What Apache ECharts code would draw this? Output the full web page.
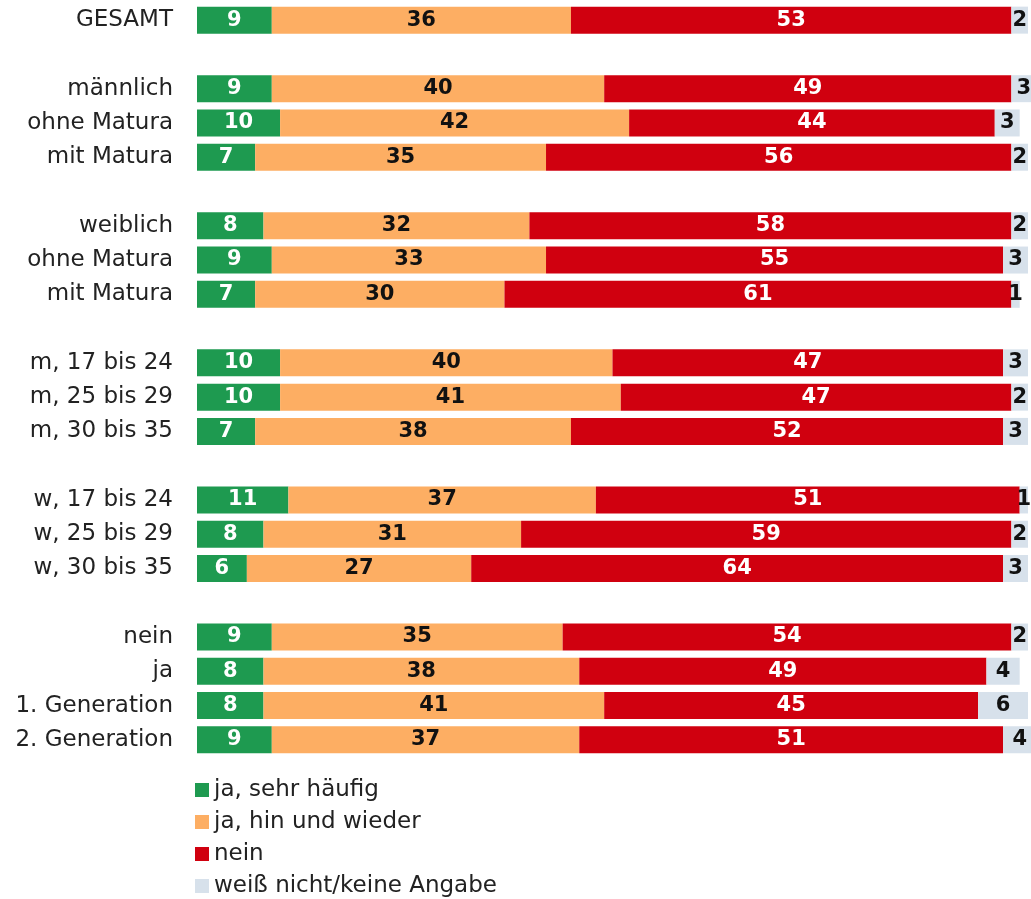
<!DOCTYPE html>
<html>
<head>
<meta charset="utf-8">
<script src="https://cdn.jsdelivr.net/npm/echarts@6/dist/echarts.min.js"></script>
<style>
  html,body{margin:0;padding:0;background:#fff;}
  #chart{width:1031px;height:899px;}
</style>
</head>
<body>
<div id="chart"></div>
<script>
  var categories = ['GESAMT', '', 'männlich', 'ohne Matura', 'mit Matura', '',
    'weiblich', 'ohne Matura', 'mit Matura', '',
    'm, 17 bis 24', 'm, 25 bis 29', 'm, 30 bis 35', '',
    'w, 17 bis 24', 'w, 25 bis 29', 'w, 30 bis 35', '',
    'nein', 'ja', '1. Generation', '2. Generation']

  var seriesNames = ['ja, sehr häufig', 'ja, hin und wieder', 'nein', 'weiß nicht/keine Angabe']

  var sehrHaeufig = [9, null, 9, 10, 7, null, 8, 9, 7, null, 10, 10, 7, null, 11, 8, 6, null, 9, 8, 8, 9]
  var hinUndWieder = [36, null, 40, 42, 35, null, 32, 33, 30, null, 40, 41, 38, null, 37, 31, 27, null, 35, 38, 41, 37]
  var nein = [53, null, 49, 44, 56, null, 58, 55, 61, null, 47, 47, 52, null, 51, 59, 64, null, 54, 49, 45, 51]
  var weissNicht = [2, null, 3, 3, 2, null, 2, 3, 1, null, 3, 2, 3, null, 1, 2, 3, null, 2, 4, 6, 4]

  var colors = ['#1e9a50', '#fdae63', '#d0000f', '#d7e1eb']
  var labelColors = ['#ffffff', '#111111', '#ffffff', '#111111']
  var font = "'DejaVu Sans', sans-serif"

  var chart = echarts.init(document.getElementById('chart'))

  var makeSeries = function (name, values, i) {
    return {
      name: name,
      type: 'bar',
      stack: 'total',
      barWidth: 27,
      clip: false,
      itemStyle: {color: colors[i]},
      label: {
        show: true,
        position: 'inside',
        color: labelColors[i],
        fontFamily: font,
        fontWeight: 'bold',
        fontSize: 21
      },
      data: values
    }
  }

  var option = {
    animation: false,
    color: colors,
    grid: {left: 197, top: 3, width: 831, height: 754},
    legend: {
      orient: 'vertical',
      left: 195,
      top: 778,
      padding: 0,
      icon: 'rect',
      itemWidth: 14,
      itemHeight: 14,
      itemGap: 8,
      textStyle: {fontFamily: font, fontSize: 23, color: '#222', lineHeight: 24},
      data: seriesNames
    },
    xAxis: {
      type: 'value',
      min: 0,
      max: 100,
      show: false
    },
    yAxis: {
      type: 'category',
      inverse: true,
      data: categories,
      axisLine: {show: false},
      axisTick: {show: false},
      axisLabel: {
        margin: 24,
        fontFamily: font,
        fontSize: 23,
        color: '#222'
      }
    },
    series: [
      makeSeries(seriesNames[0], sehrHaeufig, 0),
      makeSeries(seriesNames[1], hinUndWieder, 1),
      makeSeries(seriesNames[2], nein, 2),
      makeSeries(seriesNames[3], weissNicht, 3)
    ]
  }

  chart.setOption(option)
</script>
</body>
</html>
